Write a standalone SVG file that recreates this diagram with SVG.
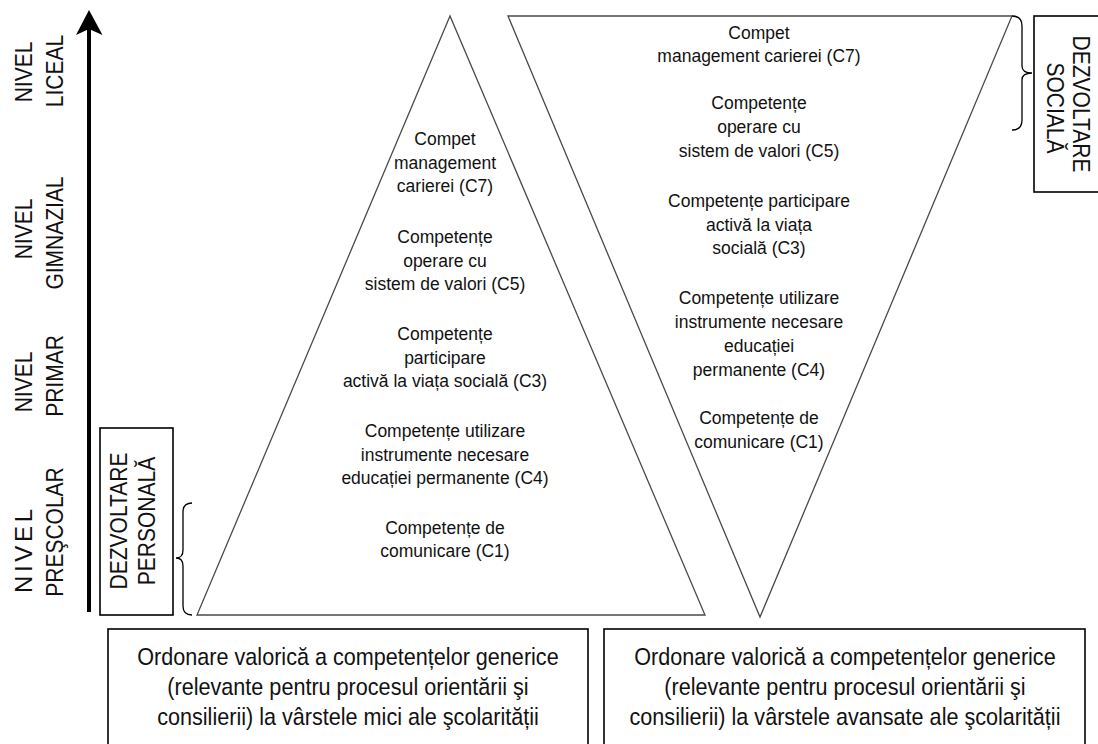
<svg xmlns="http://www.w3.org/2000/svg" width="1098" height="744" viewBox="0 0 1098 744">
<style>
.t{font-family:"Liberation Sans",Arial,sans-serif;fill:#111;}
.tri{font-size:17.5px;text-anchor:middle;}
.big{font-size:24px;text-anchor:middle;}
.outline{fill:none;stroke:#4a4a4a;stroke-width:1.3;}
.box{fill:#fff;stroke:#000;stroke-width:1.6;}
.brace{fill:none;stroke:#000;stroke-width:1.3;}
</style>
<rect width="1098" height="744" fill="#fff"/>
<g id="axis">
<line x1="89" y1="612" x2="89" y2="28" stroke="#000" stroke-width="4"/>
<path d="M89,10 L102.5,35 L89,29 L76,35 Z" fill="#000"/>
</g>
<g id="level-labels" class="t">
<text class="big" transform="translate(32,72) rotate(-90) scale(0.875,1)">NIVEL</text>
<text class="big" transform="translate(63,71) rotate(-90) scale(0.875,1)">LICEAL</text>
<text class="big" transform="translate(32,229) rotate(-90) scale(0.875,1)">NIVEL</text>
<text class="big" transform="translate(63,233) rotate(-90) scale(0.875,1)">GIMNAZIAL</text>
<text class="big" transform="translate(32,382) rotate(-90) scale(0.875,1)">NIVEL</text>
<text class="big" transform="translate(63,376) rotate(-90) scale(0.875,1)">PRIMAR</text>
<text class="big" transform="translate(32,551) rotate(-90)" textLength="84" lengthAdjust="spacing">NIVEL</text>
<text class="big" transform="translate(63,532) rotate(-90) scale(0.875,1)">PREŞCOLAR</text>
</g>
<g id="pyramid-left">
<polygon class="outline" points="450,16 197,615 705,615"/>
<g class="t tri">
<text x="445" y="145">Compet</text>
<text x="445" y="168.5">management</text>
<text x="445" y="192">carierei (C7)</text>
<text x="445" y="243">Competențe</text>
<text x="445" y="266.5">operare cu</text>
<text x="445" y="290">sistem de valori (C5)</text>
<text x="445" y="340">Competențe</text>
<text x="445" y="363.5">participare</text>
<text x="445" y="387">activă la viața socială (C3)</text>
<text x="445" y="437">Competențe utilizare</text>
<text x="445" y="460.5">instrumente necesare</text>
<text x="445" y="484">educației permanente (C4)</text>
<text x="445" y="533.5">Competențe de</text>
<text x="445" y="557">comunicare (C1)</text>
</g>
</g>
<g id="pyramid-right">
<polygon class="outline" points="508,16 1012,16 760,617"/>
<g class="t tri">
<text x="759" y="39">Compet</text>
<text x="759" y="62">management carierei (C7)</text>
<text x="759" y="109">Competențe</text>
<text x="759" y="133">operare cu</text>
<text x="759" y="157">sistem de valori (C5)</text>
<text x="759" y="207">Competențe participare</text>
<text x="759" y="231">activă la viața</text>
<text x="759" y="254">socială (C3)</text>
<text x="759" y="304">Competențe utilizare</text>
<text x="759" y="328">instrumente necesare</text>
<text x="759" y="352">educației</text>
<text x="759" y="376">permanente (C4)</text>
<text x="759" y="424">Competențe de</text>
<text x="759" y="448">comunicare (C1)</text>
</g>
</g>
<g id="dezvoltare-personala">
<rect class="box" x="100" y="428" width="73" height="187"/>
<g class="t">
<text class="big" transform="translate(127,521) rotate(-90) scale(0.875,1)">DEZVOLTARE</text>
<text class="big" transform="translate(155,521) rotate(-90) scale(0.875,1)">PERSONALĂ</text>
</g>
</g>
<g id="dezvoltare-sociala">
<rect class="box" x="1034" y="16" width="80" height="176"/>
<g class="t">
<text class="big" transform="translate(1073,104) rotate(90) scale(0.875,1)">DEZVOLTARE</text>
<text class="big" transform="translate(1047,108) rotate(90) scale(0.875,1)">SOCIALĂ</text>
</g>
</g>
<g id="caption-left">
<rect class="box" x="108" y="629" width="480" height="130"/>
<g class="t">
<text class="big" transform="translate(348,665) scale(0.9,1)">Ordonare valorică a competențelor generice</text>
<text class="big" transform="translate(348,695) scale(0.9,1)">(relevante pentru procesul orientării şi</text>
<text class="big" transform="translate(348,725) scale(0.9,1)">consilierii) la vârstele mici ale şcolarității</text>
</g>
</g>
<g id="caption-right">
<rect class="box" x="604" y="629" width="481" height="130"/>
<g class="t">
<text class="big" transform="translate(845,665) scale(0.9,1)">Ordonare valorică a competențelor generice</text>
<text class="big" transform="translate(845,695) scale(0.9,1)">(relevante pentru procesul orientării şi</text>
<text class="big" transform="translate(845,725) scale(0.9,1)">consilierii) la vârstele avansate ale şcolarității</text>
</g>
</g>
<g id="connectors">
<path class="brace" d="M192,503 Q183,503 183,512 L183,550 Q183,558 176,558 Q183,558 183,566 L183,606 Q183,615 192,615"/>
<path class="brace" d="M1012,16 Q1022,16 1022,26 L1022,66 Q1022,73 1032,73 Q1022,73 1022,80 L1022,120 Q1022,130 1012,130"/>
</g>
</svg>
